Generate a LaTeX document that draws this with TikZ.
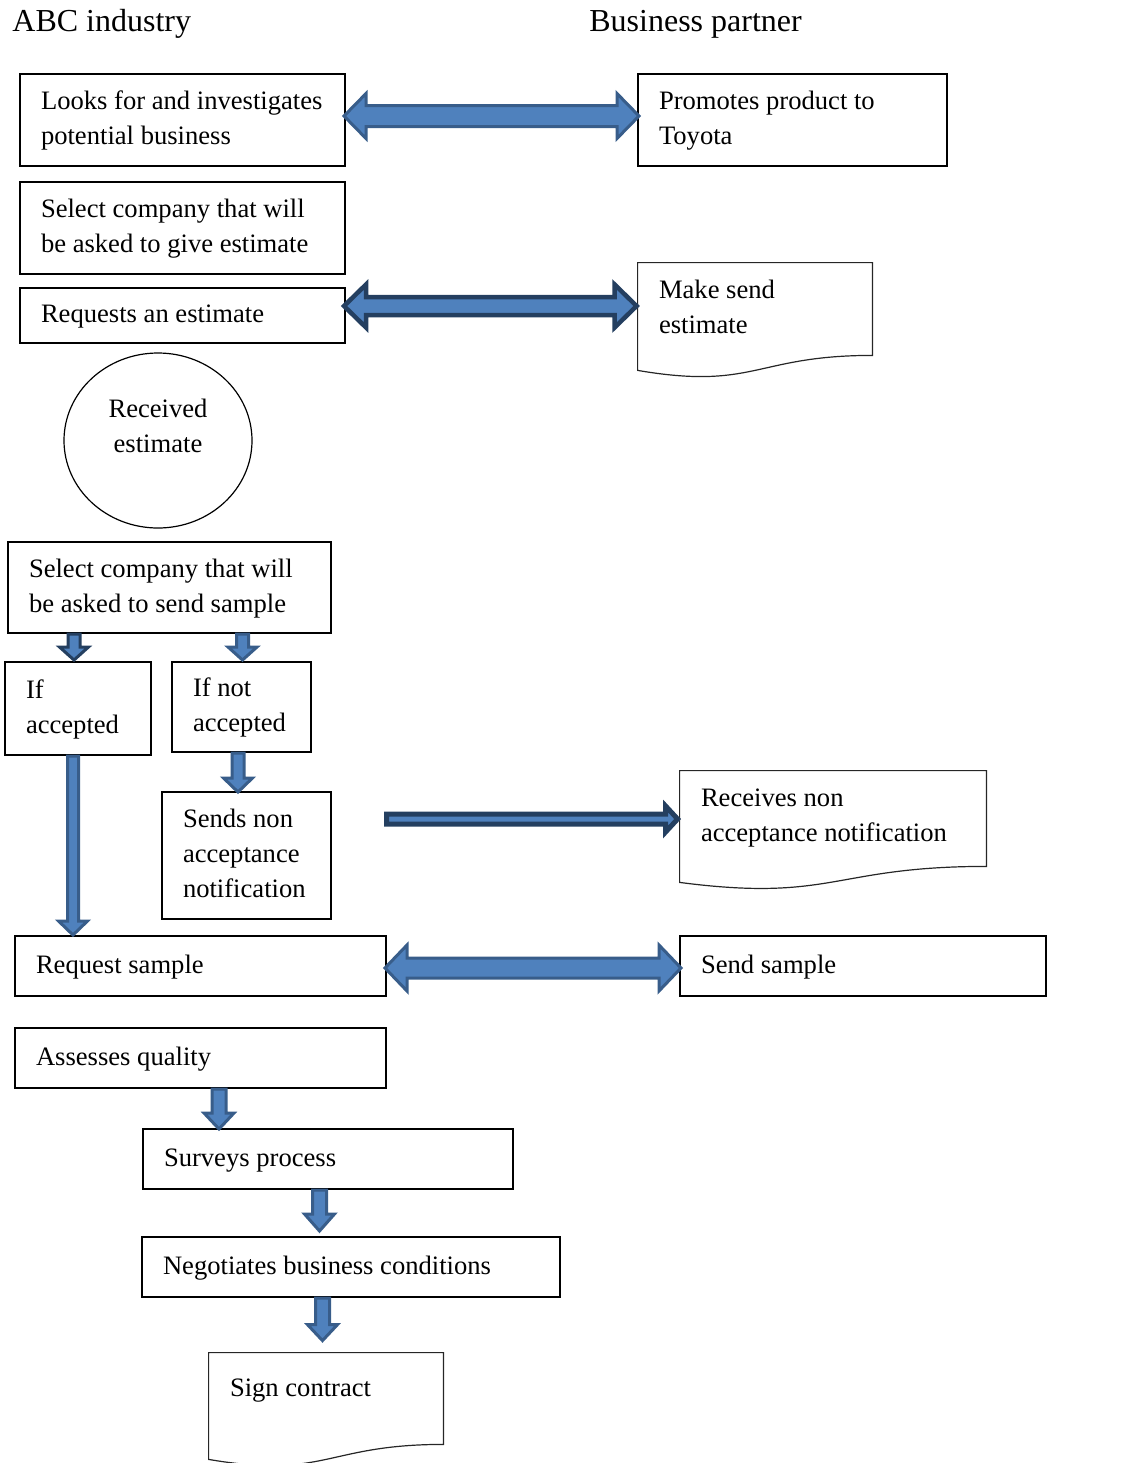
\documentclass[tikz,border=0pt]{standalone}
\usepackage{fontspec}
\setmainfont{Liberation Serif}
\usetikzlibrary{calc,shapes.geometric}
\definecolor{arrowfill}{HTML}{4F81BD}
\definecolor{arrowline}{HTML}{385D8A}
\definecolor{arrowdark}{HTML}{243F60}
\newcommand\bx[2]{\makebox[\dimexpr #1pt/2-21pt\relax][l]{\begin{tabular}{@{}l@{}}#2\end{tabular}}}
% horizontal double block arrow: style, from, to, shaft half, head half, head length (px)
\newcommand\dblarrow[6]{\draw[#1] let \p1=#2, \p2=#3 in
 (\x1,\y1) -- (\x1+#6*0.5pt,\y1+#5*0.5pt) -- (\x1+#6*0.5pt,\y1+#4*0.5pt) --
 (\x2-#6*0.5pt,\y1+#4*0.5pt) -- (\x2-#6*0.5pt,\y1+#5*0.5pt) -- (\x2,\y1) --
 (\x2-#6*0.5pt,\y1-#5*0.5pt) -- (\x2-#6*0.5pt,\y1-#4*0.5pt) --
 (\x1+#6*0.5pt,\y1-#4*0.5pt) -- (\x1+#6*0.5pt,\y1-#5*0.5pt) -- cycle;}
% horizontal single block arrow to the right
\newcommand\rblock[6]{\draw[#1] let \p1=#2, \p2=#3 in
 (\x1,\y1+#4*0.5pt) -- (\x2-#6*0.5pt,\y1+#4*0.5pt) -- (\x2-#6*0.5pt,\y1+#5*0.5pt) --
 (\x2,\y1) -- (\x2-#6*0.5pt,\y1-#5*0.5pt) -- (\x2-#6*0.5pt,\y1-#4*0.5pt) --
 (\x1,\y1-#4*0.5pt) -- cycle;}
% vertical block arrow downwards (x taken from the end point)
\newcommand\dblock[6]{\draw[#1] let \p1=#2, \p2=#3 in
 (\x2,\y2) -- (\x2+#5*0.5pt,\y2+#6*0.5pt) -- (\x2+#4*0.5pt,\y2+#6*0.5pt) --
 (\x2+#4*0.5pt,\y1) -- (\x2-#4*0.5pt,\y1) -- (\x2-#4*0.5pt,\y2+#6*0.5pt) --
 (\x2-#5*0.5pt,\y2+#6*0.5pt) -- cycle;}
\tikzset{
  box/.style={draw=black, line width=1pt, rectangle, inner xsep=10.5pt, inner ysep=0pt},
  docnode/.style={rectangle, inner xsep=10.5pt, inner ysep=0pt},
  docline/.style={draw=black!85, line width=0.6pt},
  ell/.style={draw=black, line width=0.6pt, ellipse, inner sep=0pt, minimum width=94pt, minimum height=87.5pt},
  head/.style={inner sep=0pt, anchor=base west, font=\fontsize{16pt}{19pt}\selectfont},
  blk/.style={fill=arrowfill, draw=arrowline, line width=1.5pt, line join=miter},
  blkdark/.style={fill=arrowfill, draw=arrowdark, line width=1.5pt, line join=miter},
}
\begin{document}
\begin{tikzpicture}[x=0.5pt, y=-0.5pt, font=\fontsize{13.3pt}{17.5pt}\selectfont]
\useasboundingbox (0,0) rectangle (1138,1463);

\node[head] (h1) at (12,31) {ABC industry};
\node[head] (h2) at (589,31) {Business partner};

\node[box, minimum width=325*0.5pt, minimum height=92*0.5pt] (A) at (182.5,120) {\bx{325}{Looks for and investigates\\potential business}};
\node[box, minimum width=309*0.5pt, minimum height=92*0.5pt] (B) at (792.5,120) {\bx{309}{Promotes product to\\Toyota}};
\node[box, minimum width=325*0.5pt, minimum height=92*0.5pt] (C) at (182.5,228) {\bx{325}{Select company that will\\be asked to give estimate}};
\node[box, minimum width=325*0.5pt, minimum height=55*0.5pt] (D) at (182.5,315.5) {\bx{325}{Requests an estimate}};

\node[docnode, minimum width=234*0.5pt, minimum height=92*0.5pt] (E) at (755,309) {\bx{234}{Make send\\estimate}};
\draw[docline] (E.north west) -- (E.north east) -- ($(E.south east)+(0,0)$)
  .. controls ($(E.south)+(0,0)$) and ($(E.south)+(0,35)$) .. ($(E.south west)+(0,15)$) -- cycle;

\node[ell] (F) at (158,440.5) {\raisebox{2.8pt}[0pt][0pt]{\begin{tabular}{@{}c@{}}Received\\estimate\end{tabular}}};

\node[box, minimum width=323*0.5pt, minimum height=91*0.5pt] (G) at (169.5,587.5) {\bx{323}{Select company that will\\be asked to send sample}};
\node[box, minimum width=146*0.5pt, minimum height=93*0.5pt] (H) at (78,708.5) {\bx{146}{If\\accepted}};
\node[box, minimum width=139*0.5pt, minimum height=90*0.5pt] (I) at (241.5,707) {\bx{139}{If not\\accepted}};
\node[box, minimum width=169*0.5pt, minimum height=127*0.5pt] (J) at (246.5,855.5) {\bx{169}{Sends non\\acceptance\\notification}};

\node[docnode, minimum width=306*0.5pt, minimum height=92*0.5pt] (K) at (833,817) {\bx{306}{Receives non\\acceptance notification}};
\draw[docline] (K.north west) -- (K.north east) -- ($(K.south east)+(0,3)$)
  .. controls ($(K.south)+(0,3)$) and ($(K.south)+(0,39)$) .. ($(K.south west)+(0,19)$) -- cycle;

\node[box, minimum width=371*0.5pt, minimum height=60*0.5pt] (L) at (200.5,966) {\bx{371}{Request sample}};
\node[box, minimum width=366*0.5pt, minimum height=60*0.5pt] (M) at (863,966) {\bx{366}{Send sample}};
\node[box, minimum width=371*0.5pt, minimum height=60*0.5pt] (N) at (200.5,1058) {\bx{371}{Assesses quality}};
\node[box, minimum width=370*0.5pt, minimum height=60*0.5pt] (O) at (328,1159) {\bx{370}{Surveys process}};
\node[box, minimum width=418*0.5pt, minimum height=60*0.5pt] (P) at (351,1267) {\bx{418}{Negotiates business conditions}};

\node[docnode, minimum width=234*0.5pt, minimum height=72*0.5pt] (Q) at (326,1389) {\bx{234}{Sign contract}};
\draw[docline] (Q.north west) -- (Q.north east) -- ($(Q.south east)+(0,19)$)
  .. controls ($(Q.south)+(0,19)$) and ($(Q.south)+(0,54)$) .. ($(Q.south west)+(0,34)$) -- cycle;

% connectors
\dblarrow{blk}{($(A.east)+(-2,-4)$)}{($(B.west)+(2,-4)$)}{10.5}{22.5}{22}
\dblarrow{blkdark, line width=2.25pt}{($(D.east)+(-2,-9.5)$)}{($(E.west)+(-1,-3)$)}{9}{21.5}{22}
\rblock{blkdark, line width=2.5pt}{($(J.east)+(54.5,-36.5)$)}{($(K.west)+(-2,2)$)}{5}{13}{12}
\dblarrow{blk}{($(L.east)+(-2,2)$)}{($(M.west)+(2,2)$)}{10}{23}{22}

\dblock{blkdark}{(G.south)}{($(H.north)+(-4,-1)$)}{6}{14.5}{13}
\dblock{blk}{(G.south)}{($(I.north)+(1,-1)$)}{6}{14.5}{13}
\dblock{blk}{(H.south)}{($(L.north west)+(59,0)$)}{5.5}{14.5}{14}
\dblock{blk}{(I.south)}{($(J.north)+(-8.5,1)$)}{6}{14.5}{14}
\dblock{blk}{(N.south)}{($(O.north west)+(77,1)$)}{7}{15}{16}
\dblock{blk}{(O.south)}{($(P.north west)+(178.5,-5)$)}{7}{15}{17}
\dblock{blk}{(P.south)}{($(Q.north)+(-3.5,-12)$)}{7}{15}{16}
\end{tikzpicture}
\end{document}
